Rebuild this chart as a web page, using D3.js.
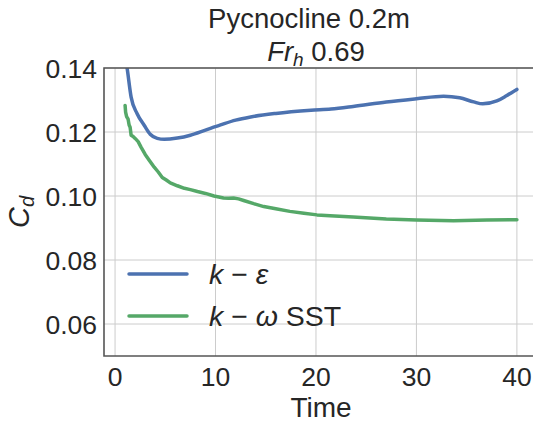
<!DOCTYPE html>
<html>
<head>
<meta charset="utf-8">
<script src="https://cdn.jsdelivr.net/npm/d3@7"></script>
<style>
  body { margin: 0; background: #fff; }
  svg { font-family: "Liberation Sans", Arial, sans-serif; }
</style>
</head>
<body>
<svg id="chart" width="533" height="423"></svg>
<script>
// k-epsilon curve
const timeKE = [1, 1.2, 1.6, 2.2, 2.9, 3.5, 4.2, 4.9, 6.2, 7.5, 9, 10.5, 12, 13.5, 16, 19.5, 21.5, 23.7, 27, 30, 32.7, 34.3, 35.7, 36.6, 38, 39, 40]
const cdKE = [0.144, 0.140, 0.1309, 0.1257, 0.1221, 0.1193, 0.1180, 0.1177, 0.1181, 0.1190, 0.1206, 0.1222, 0.1237, 0.1247, 0.1258, 0.1268, 0.1272, 0.1280, 0.1294, 0.1304, 0.1312, 0.1307, 0.1294, 0.1288, 0.1297, 0.1314, 0.1333]
// k-omega SST curve (noisy early on)
const timeKW = [1, 1.05, 1.15, 1.3, 1.4, 1.5, 1.6, 1.8, 2.0, 2.3, 2.6, 3.0, 3.4, 3.9, 4.3, 4.7, 5.1, 5.5, 6.2, 6.9, 7.5, 8.2, 9, 9.85, 10.8, 11.3, 11.8, 12.3, 12.8, 13.8, 14.8, 16, 17.4, 18.8, 20.1, 21.4, 23.7, 27, 30, 33.7, 37, 40]
const cdKW = [0.1283, 0.1262, 0.1248, 0.1240, 0.1222, 0.1215, 0.1190, 0.1186, 0.1180, 0.1170, 0.1152, 0.1130, 0.1112, 0.1090, 0.1075, 0.1058, 0.1050, 0.1041, 0.1032, 0.1024, 0.1020, 0.1014, 0.1008, 0.1000, 0.0994, 0.0993, 0.0994, 0.0991, 0.0986, 0.0976, 0.0967, 0.0960, 0.0952, 0.0946, 0.0941, 0.0938, 0.0934, 0.0928, 0.0925, 0.0923, 0.0925, 0.0926]

const xTicks = [0, 10, 20, 30, 40]
const yTicks = [0.06, 0.08, 0.10, 0.12, 0.14]
const colors = ['#4c72b0', '#55a868']

const svg = d3.select('#chart')
const pLeft = 104, pTop = 68, pRight = 540, pBottom = 356
const textColor = '#262626'

let scale_x = d3.scaleLinear().domain([-1.1, 42.3]).range([pLeft, pRight])
let scale_y = d3.scaleLinear().domain([0.05, 0.14]).range([pBottom, pTop])

svg.append('defs').append('clipPath').attr('id', 'plotclip')
    .append('rect').attr('x', pLeft).attr('y', pTop)
    .attr('width', pRight - pLeft).attr('height', pBottom - pTop)

// grid
let grid = svg.append('g')
xTicks.forEach(t => {
    grid.append('line')
        .attr('x1', scale_x(t)).attr('x2', scale_x(t))
        .attr('y1', pTop).attr('y2', pBottom)
        .attr('stroke', '#cccccc').attr('stroke-width', 1)
})
yTicks.forEach(t => {
    grid.append('line')
        .attr('x1', pLeft).attr('x2', pRight)
        .attr('y1', scale_y(t)).attr('y2', scale_y(t))
        .attr('stroke', '#cccccc').attr('stroke-width', 1)
})

// curves
let plot = svg.append('g').attr('clip-path', 'url(#plotclip)')
const series = [[timeKE, cdKE, d3.curveMonotoneX], [timeKW, cdKW, d3.curveLinear]]
series.forEach((s, k) => {
    let linePath = d3.line()
        .x((d, i) => scale_x(s[0][i]))
        .y(d => scale_y(d))
        .curve(s[2])
    plot.append('path')
        .attr('fill', 'none')
        .attr('stroke', colors[k])
        .attr('stroke-width', 3.5)
        .attr('stroke-linejoin', 'round')
        .attr('stroke-linecap', 'round')
        .attr('d', linePath(s[1]))
})

// spines
svg.append('path')
    .attr('d', `M${pRight},${pTop}H${pLeft}V${pBottom}H${pRight}`)
    .attr('fill', 'none').attr('stroke', '#555555').attr('stroke-width', 1.6)

// tick labels
svg.append('g').selectAll('text').data(xTicks).join('text')
    .attr('x', d => scale_x(d)).attr('y', 386)
    .attr('text-anchor', 'middle')
    .attr('font-size', 26.5).attr('fill', textColor)
    .text(d => d)
svg.append('g').selectAll('text').data(yTicks).join('text')
    .attr('x', 97).attr('y', d => scale_y(d) + 9.5)
    .attr('text-anchor', 'end')
    .attr('font-size', 26.5).attr('fill', textColor)
    .text(d => d3.format('.2f')(d))

// axis labels
svg.append('text')
    .attr('x', 321).attr('y', 417)
    .attr('text-anchor', 'middle')
    .attr('font-size', 28).attr('fill', textColor)
    .text('Time')
let yl = svg.append('text')
    .attr('transform', 'translate(29,212) rotate(-90)')
    .attr('text-anchor', 'middle')
    .attr('font-size', 29).attr('fill', textColor)
yl.append('tspan').attr('font-style', 'italic').text('C')
yl.append('tspan').attr('font-style', 'italic').attr('font-size', 20).attr('dy', 5).text('d')

// title
svg.append('text')
    .attr('x', 309).attr('y', 28)
    .attr('text-anchor', 'middle')
    .attr('font-size', 27.5).attr('fill', textColor)
    .text('Pycnocline 0.2m')
let t2 = svg.append('text')
    .attr('x', 316).attr('y', 61)
    .attr('text-anchor', 'middle')
    .attr('font-size', 27.5).attr('fill', textColor)
t2.append('tspan').attr('font-style', 'italic').text('Fr')
t2.append('tspan').attr('font-style', 'italic').attr('font-size', 19).attr('dy', 5).text('h')
t2.append('tspan').attr('dy', -5).text(' 0.69')

// legend
const legendItems = [['k', ' \u2212 ', '\u03b5', ''], ['k', ' \u2212 ', '\u03c9', ' SST']]
legendItems.forEach((item, k) => {
    let y = 274 + k * 42
    svg.append('line')
        .attr('x1', 129).attr('x2', 187).attr('y1', y).attr('y2', y)
        .attr('stroke', colors[k]).attr('stroke-width', 3.5)
        .attr('stroke-linecap', 'round')
    let tx = svg.append('text')
        .attr('x', 209).attr('y', y + 10)
        .attr('font-size', 28.5).attr('fill', textColor)
    tx.append('tspan').attr('font-style', 'italic').text(item[0])
    tx.append('tspan').text(item[1])
    tx.append('tspan').attr('font-style', 'italic').text(item[2])
    tx.append('tspan').text(item[3])
})
</script>
</body>
</html>
